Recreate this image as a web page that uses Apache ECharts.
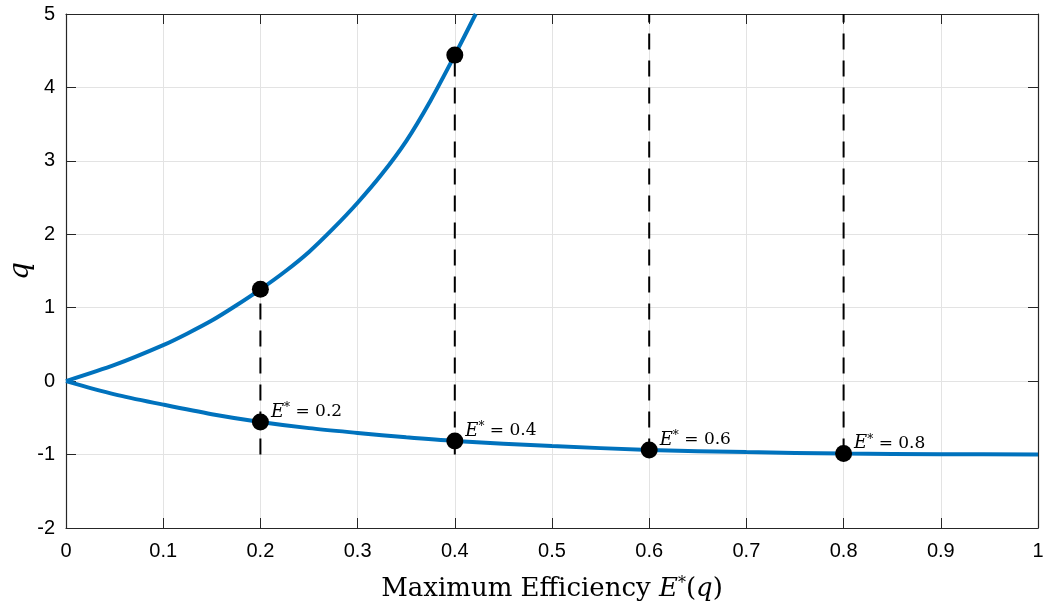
<!DOCTYPE html>
<html>
<head>
<meta charset="utf-8">
<script src="https://cdn.jsdelivr.net/npm/echarts@6/dist/echarts.min.js"></script>
<style>html,body{margin:0;padding:0;background:#fff}#c{width:1048px;height:605px}</style>
</head>
<body>
<div id="c"></div>
<script>
// Upper branch of q vs E*
const upperE = [0, 0.05, 0.1, 0.125, 0.15, 0.175, 0.2, 0.225, 0.25, 0.275, 0.3, 0.325, 0.35, 0.375, 0.4, 0.4215];
const upperQ = [0, 0.22, 0.49, 0.65, 0.825, 1.03, 1.25, 1.49, 1.76, 2.08, 2.43, 2.82, 3.27, 3.82, 4.44, 5.0];
// Lower branch
const lowerE = [0, 0.05, 0.1, 0.15, 0.2, 0.25, 0.3, 0.35, 0.4, 0.5, 0.6, 0.7, 0.8, 0.9, 1.0];
const lowerQ = [0, -0.18, -0.32, -0.45, -0.556, -0.64, -0.705, -0.765, -0.815, -0.883, -0.937, -0.966, -0.986, -0.995, -0.999];
// Marked points
const markE = [0.2, 0.4, 0.6, 0.8];
const markUpperQ = [1.25, 4.44];
const markLowerQ = [-0.556, -0.815, -0.937, -0.986];
const dashTop = [1.25, 4.44, 5, 5];
const dashBottom = -1;
// Tick labels
const xTickLabels = ['0', '0.1', '0.2', '0.3', '0.4', '0.5', '0.6', '0.7', '0.8', '0.9', '1'];
const yTickLabels = ['-2', '-1', '0', '1', '2', '3', '4', '5'];

const blue = '#0072BD';
const axisCol = '#262626';
const chart = echarts.init(document.getElementById('c'));

const series = [];
markE.forEach((e, i) => {
  series.push({
    type: 'line', data: [[e, dashBottom], [e, dashTop[i]]], symbol: 'none', silent: true,
    lineStyle: { color: '#000', width: 2, type: [16, 11] }, z: 2
  });
});
series.push({
  type: 'line', smooth: 0.25, symbol: 'none', data: upperE.map((e, i) => [e, upperQ[i]]),
  lineStyle: { color: blue, width: 4 }, z: 3
});
series.push({
  type: 'line', smooth: 0.3, symbol: 'none', data: lowerE.map((e, i) => [e, lowerQ[i]]),
  lineStyle: { color: blue, width: 4 }, z: 3
});
series.push({
  type: 'scatter', symbolSize: 17, itemStyle: { color: '#000', opacity: 1 }, z: 5,
  data: markUpperQ.map((q, i) => [markE[i], q])
});
series.push({
  type: 'scatter', symbolSize: 17, itemStyle: { color: '#000', opacity: 1 }, z: 5,
  data: markLowerQ.map((q, i) => [markE[i], q]),
  label: {
    show: true, position: 'right', distance: 2, offset: [0, -10],
    formatter: p => '{e|E}{s|*}{n| = 0.' + Math.round(markE[p.dataIndex] * 10) + '}',
    rich: {
      e: { fontFamily: 'DejaVu Serif', fontStyle: 'italic', fontSize: 18, color: '#000' },
      s: { fontFamily: 'DejaVu Serif', fontSize: 12, color: '#000', verticalAlign: 'top', padding: [0, 0, 8, 0] },
      n: { fontFamily: 'DejaVu Serif', fontSize: 17, color: '#000' }
    }
  }
});

const tickCommon = { show: true, inside: true, length: 10, lineStyle: { color: axisCol, width: 1 } };
const lineCommon = { show: true, onZero: false, lineStyle: { color: axisCol, width: 1.2 } };

chart.setOption({
  animation: false,
  backgroundColor: '#fff',
  grid: { left: 66, right: 10, top: 14, bottom: 77, containLabel: false, outerBoundsMode: 'none' },
  xAxis: [{
    type: 'value', min: 0, max: 1, interval: 0.1, position: 'bottom',
    axisLine: lineCommon, axisTick: tickCommon,
    splitLine: { show: true, lineStyle: { color: '#e3e3e3', width: 1 } },
    axisLabel: {
      margin: 13, fontSize: 20, color: '#000', fontFamily: 'Liberation Sans',
      formatter: (v) => xTickLabels[Math.round(v * 10)]
    },
    name: '{t|Maximum Efficiency }{e|E}{s|*}{t|(}{e|q}{t|)}',
    nameLocation: 'middle', nameGap: 48,
    nameTextStyle: {
      rich: {
        t: { fontFamily: 'DejaVu Serif', fontSize: 26, color: '#000' },
        e: { fontFamily: 'DejaVu Serif', fontStyle: 'italic', fontSize: 26, color: '#000' },
        s: { fontFamily: 'DejaVu Serif', fontSize: 16, color: '#000', verticalAlign: 'top', padding: [0, 0, 11, 0] }
      }
    }
  }, {
    type: 'value', min: 0, max: 1, interval: 0.1, position: 'top',
    axisLine: lineCommon, axisTick: tickCommon, splitLine: { show: false }, axisLabel: { show: false }
  }],
  yAxis: [{
    type: 'value', min: -2, max: 5, interval: 1, position: 'left',
    axisLine: lineCommon, axisTick: tickCommon,
    splitLine: { show: true, lineStyle: { color: '#e3e3e3', width: 1 } },
    axisLabel: {
      margin: 11, fontSize: 20, color: '#000', fontFamily: 'Liberation Sans',
      formatter: (v) => yTickLabels[Math.round(v) + 2]
    },
    name: 'q', nameLocation: 'middle', nameGap: 31, nameMoveOverlap: false,
    nameTextStyle: { fontFamily: 'DejaVu Serif', fontStyle: 'italic', fontSize: 28, color: '#000' }
  }, {
    type: 'value', min: -2, max: 5, interval: 1, position: 'right',
    axisLine: lineCommon, axisTick: tickCommon, splitLine: { show: false }, axisLabel: { show: false }
  }],
  series: series
});
</script>
</body>
</html>
